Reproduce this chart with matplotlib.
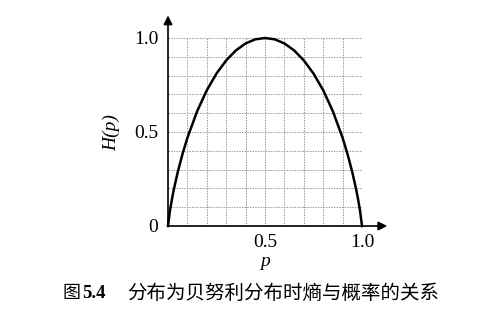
import numpy as np
import matplotlib.pyplot as plt

# values
p = [0.0, 0.01, 0.02, 0.03, 0.05, 0.075, 0.1, 0.15, 0.2, 0.25, 0.3, 0.35, 0.4, 0.45, 0.5,
     0.55, 0.6, 0.65, 0.7, 0.75, 0.8, 0.85, 0.9, 0.925, 0.95, 0.97, 0.98, 0.99, 1.0]
h = [0.0, 0.081, 0.141, 0.194, 0.286, 0.384, 0.469, 0.610, 0.722, 0.811, 0.881, 0.934, 0.971, 0.993, 1.0,
     0.993, 0.971, 0.934, 0.881, 0.811, 0.722, 0.610, 0.469, 0.384, 0.286, 0.194, 0.141, 0.081, 0.0]

xticks = [0.5, 1.0]
xticklabels = ['0.5', '1.0']
yticks = [0.0, 0.5, 1.0]
yticklabels = ['0', '0.5', '1.0']
caption = '分布为贝努利分布时熵与概率的关系'

serif = 'Liberation Serif'
cjk = ['Noto Sans CJK SC', 'DejaVu Sans']

fig = plt.figure(figsize=(4.8, 3.13), dpi=100)
ax = fig.add_axes([168 / 480, 87 / 313, 194 / 480, 188 / 313])
ax.set_xlim(0, 1)
ax.set_ylim(0, 1)
for s in ax.spines.values():
    s.set_visible(False)

# grid
ax.set_xticks(np.arange(0.1, 1.01, 0.1), minor=True)
ax.set_yticks(np.arange(0.1, 1.01, 0.1), minor=True)
ax.grid(which='both', color='#9a9a9a', linestyle=(0, (1.5, 1.2)), linewidth=0.7)
ax.tick_params(which='minor', length=0)

ax.set_xticks(xticks)
ax.set_xticklabels(xticklabels, fontfamily=serif, fontsize=14)
ax.set_yticks(yticks)
ax.set_yticklabels(yticklabels, fontfamily=serif, fontsize=14)
ax.tick_params(axis='y', which='major', length=0, pad=7)
ax.tick_params(axis='x', which='major', length=0, pad=6)

ax.plot(p, h, color='black', linewidth=1.8, clip_on=False, zorder=3)

# axes with arrows
arr = dict(arrowstyle='-|>', mutation_scale=13, lw=1.2, color='black', shrinkA=0, shrinkB=0)
ax.annotate('', xy=(0, 1.12), xytext=(0, 0), arrowprops=arr, annotation_clip=False)
ax.annotate('', xy=(1.13, 0), xytext=(0, 0), arrowprops=arr, annotation_clip=False)

fig.text(112 / 480, 1 - 133 / 313, 'H(p)', rotation=90, ha='center', va='center',
         fontfamily=serif, fontstyle='italic', fontsize=14)
fig.text(265 / 480, 1 - 261 / 313, 'p', ha='center', va='center',
         fontfamily=serif, fontstyle='italic', fontsize=14)

# caption
fig.text(62 / 480, 1 - 293 / 313, '图', ha='left', va='center', family=cjk, fontsize=13)
fig.text(82 / 480, 1 - 293 / 313, '5.4', ha='left', va='center', fontfamily=serif,
         fontweight='bold', fontsize=13.5)
fig.text(127 / 480, 1 - 293 / 313, caption, ha='left', va='center', family=cjk, fontsize=14)

fig.savefig('out.png', dpi=100)
